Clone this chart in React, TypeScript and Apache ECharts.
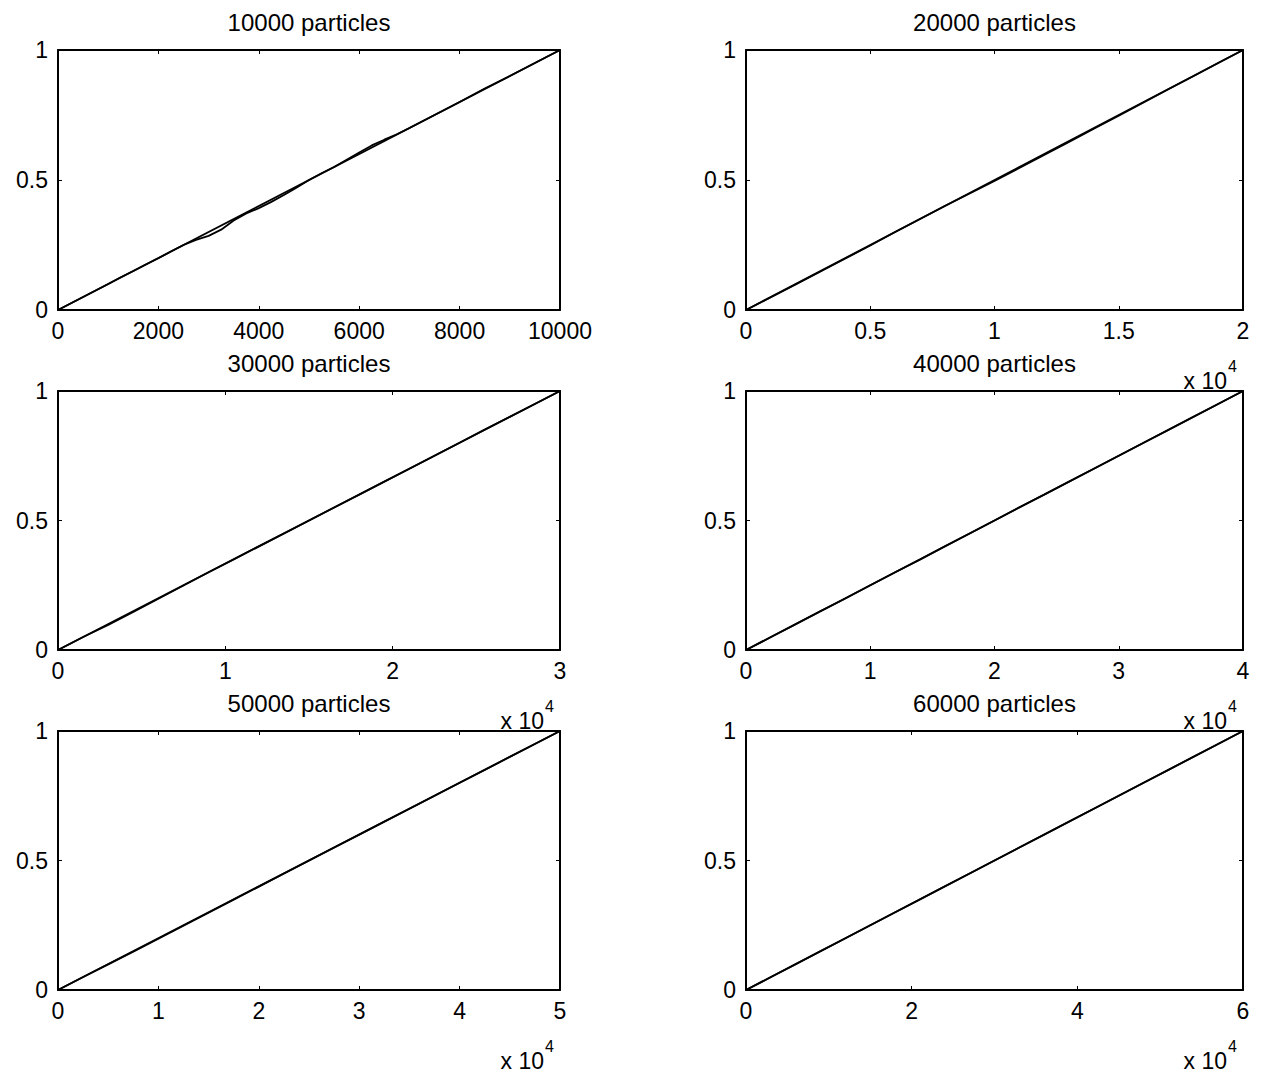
import React, { useEffect, useRef } from "react";
import * as echarts from "echarts";

// ---- data ----
const particleCounts = [10000, 20000, 30000, 40000, 50000, 60000];
const titles = [
  "10000 particles",
  "20000 particles",
  "30000 particles",
  "40000 particles",
  "50000 particles",
  "60000 particles",
];
const xTickIntervals = [2000, 5000, 10000, 10000, 10000, 20000];
const xLabelScale = [1, 10000, 10000, 10000, 10000, 10000];
const yTicks = [0, 0.5, 1];

// empirical curves, sampled at evenly spaced points of [0, N]
const emp1 = [
  0, 0.025, 0.05, 0.075, 0.1, 0.126, 0.15, 0.175, 0.199, 0.225,
  0.25, 0.27, 0.285, 0.309, 0.344, 0.371, 0.392, 0.416, 0.442, 0.47,
  0.5, 0.526, 0.55, 0.578, 0.606, 0.633, 0.655, 0.676, 0.7, 0.725,
  0.75, 0.775, 0.8, 0.826, 0.852, 0.876, 0.9, 0.925, 0.95, 0.975, 1,
];
const emp2 = [0, 0.049, 0.098, 0.148, 0.198, 0.248, 0.3, 0.35, 0.4, 0.448, 0.496, 0.546, 0.596, 0.646, 0.697, 0.747, 0.798, 0.849, 0.899, 0.95, 1];
const emp3 = [0, 0.05, 0.097, 0.147, 0.198, 0.249, 0.3, 0.35, 0.4, 0.45, 0.5, 0.55, 0.6, 0.65, 0.7, 0.75, 0.8, 0.851, 0.9, 0.95, 1];
const emp4 = [0, 0.05, 0.1, 0.15, 0.199, 0.25, 0.3, 0.349, 0.4, 0.45, 0.5, 0.551, 0.6, 0.65, 0.7, 0.75, 0.8, 0.85, 0.9, 0.95, 1];
const emp5 = [0, 0.05, 0.099, 0.148, 0.198, 0.248, 0.298, 0.349, 0.399, 0.45, 0.5, 0.55, 0.6, 0.65, 0.7, 0.75, 0.8, 0.85, 0.9, 0.95, 1];
const emp6 = [0, 0.05, 0.1, 0.15, 0.2, 0.25, 0.3, 0.35, 0.4, 0.45, 0.5, 0.55, 0.6, 0.65, 0.7, 0.75, 0.8, 0.85, 0.9, 0.95, 1];
const empirical = [emp1, emp2, emp3, emp4, emp5, emp6];

// ---- layout ----
const colLeft = [58, 746];
const colWidth = [502, 497];
const rowTop = [50, 391, 731];
const rowHeight = [260, 259, 259];
const FONT = "'Liberation Sans', Arial, sans-serif";
const FS = 23;
const TITLE_FS = 24;

export default function App() {
  const ref = useRef<HTMLDivElement>(null);
  useEffect(() => {
    if (!ref.current) return;
    const chart = echarts.init(ref.current, null, { renderer: "svg" });
    const grids: any[] = [];
    const xAxes: any[] = [];
    const yAxes: any[] = [];
    const series: any[] = [];
    const graphics: any[] = [];
    const axisLine = { show: true, onZero: false, lineStyle: { color: "#000", width: 2 } };
    const axisTick = { show: true, inside: true, length: 4, lineStyle: { color: "#000", width: 1 } };
    particleCounts.forEach((N, i) => {
      const r = Math.floor(i / 2);
      const c = i % 2;
      const left = colLeft[c];
      const width = colWidth[c];
      const top = rowTop[r];
      const height = rowHeight[r];
      grids.push({ left, top, width, height, outerBoundsMode: "none", containLabel: false });
      const scale = xLabelScale[i];
      const common = {
        gridIndex: i,
        type: "value",
        min: 0,
        max: N,
        interval: xTickIntervals[i],
        splitLine: { show: false },
        axisLine,
        axisTick,
      };
      xAxes.push({
        ...common,
        position: "bottom",
        axisLabel: {
          show: true,
          color: "#000",
          fontFamily: FONT,
          fontSize: FS,
          margin: 9,
          showMinLabel: true,
          showMaxLabel: true,
          hideOverlap: false,
          formatter: (v: number) => String(+(v / scale).toFixed(2)),
        },
      });
      xAxes.push({ ...common, position: "top", axisLabel: { show: false } });
      const ycommon = {
        gridIndex: i,
        type: "value",
        min: 0,
        max: 1,
        interval: 0.5,
        splitLine: { show: false },
        axisLine,
        axisTick,
      };
      yAxes.push({
        ...ycommon,
        position: "left",
        axisLabel: {
          show: true,
          color: "#000",
          fontFamily: FONT,
          fontSize: FS,
          margin: 10,
          hideOverlap: false,
          formatter: (v: number) => (yTicks.includes(v) ? String(v) : ""),
        },
      });
      yAxes.push({ ...ycommon, position: "right", axisLabel: { show: false } });

      const emp = empirical[i];
      series.push({
        type: "line",
        xAxisIndex: 2 * i,
        yAxisIndex: 2 * i,
        data: [[0, 0], [N, 1]],
        showSymbol: false,
        symbol: "none",
        lineStyle: { color: "#000", width: 1.8 },
        silent: true,
      });
      series.push({
        type: "line",
        xAxisIndex: 2 * i,
        yAxisIndex: 2 * i,
        data: emp.map((y, k) => [(k * N) / (emp.length - 1), y]),
        showSymbol: false,
        symbol: "none",
        lineStyle: { color: "#000", width: 1.8 },
        silent: true,
      });

      graphics.push({
        type: "text",
        x: left + width / 2,
        y: top - 28,
        style: {
          text: titles[i],
          fill: "#000",
          font: `${TITLE_FS}px ${FONT}`,
          textAlign: "center",
          textVerticalAlign: "middle",
        },
      });
      if (scale !== 1) {
        const baseY = top + height + 71;
        graphics.push({
          type: "text",
          x: left + width - 16,
          y: baseY,
          style: {
            text: "x 10",
            fill: "#000",
            font: `${FS}px ${FONT}`,
            textAlign: "right",
            textVerticalAlign: "middle",
          },
        });
        graphics.push({
          type: "text",
          x: left + width - 15,
          y: baseY - 15,
          style: {
            text: "4",
            fill: "#000",
            font: `16px ${FONT}`,
            textAlign: "left",
            textVerticalAlign: "middle",
          },
        });
      }
    });

    chart.setOption({
      animation: false,
      backgroundColor: "#fff",
      grid: grids,
      xAxis: xAxes,
      yAxis: yAxes,
      series,
      graphic: graphics,
    });
    return () => chart.dispose();
  }, []);
  return (
    <div
      ref={ref}
      style={{ position: "absolute", left: 0, top: 0, width: 1268, height: 1079 }}
    />
  );
}
